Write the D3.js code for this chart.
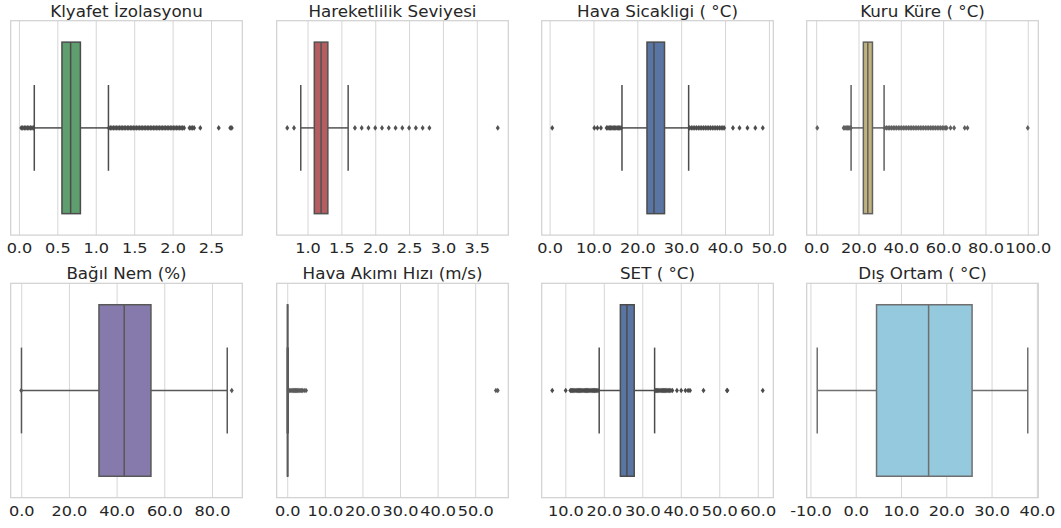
<!DOCTYPE html>
<html>
<head>
<meta charset="utf-8">
<script src="https://cdn.jsdelivr.net/npm/d3@7"></script>
<style>
  body { margin: 0; background: #fff; }
  svg { display: block; }
  text { font-family: "DejaVu Sans", sans-serif; fill: #262626; }
</style>
</head>
<body>
<svg id="chart" width="1061" height="528"></svg>
<script>
// Variables, one box per panel (row-major order)
const titles = [
  "Klyafet İzolasyonu", "Hareketlilik Seviyesi", "Hava Sicakligi ( \u00B0C)", "Kuru Küre ( \u00B0C)",
  "Bağıl Nem (%)", "Hava Akımı Hızı (m/s)", "SET ( \u00B0C)", "Dış Ortam ( \u00B0C)"
];

const boxColors = ["#55a868", "#c44e52", "#4c72b0", "#ccb974", "#8172b3", "#dd8452", "#4c72b0", "#87ceeb"];

// Five-number summaries
const q1      = [0.56,  1.1, 22.2, 22.3, 32.6, 0.05, 24.3,  4.6];
const medians = [0.673, 1.2, 23.8, 24.4, 43.2, 0.10, 26.0, 16.1];
const q3      = [0.80,  1.3, 26.2, 26.6, 54.4, 0.15, 27.9, 25.7];
const whiskLo = [0.20,  0.9, 16.5, 16.5,  0.1, 0.00, 18.8, -8.5];
const whiskHi = [1.165, 1.6, 31.7, 32.1, 86.4, 0.27, 33.2, 38.0];

// Outlying observations
const outliers = [
  [0.03,0.05,0.07,0.09,0.11,0.13,0.15,0.17,0.19,
   1.17,1.19,1.21,1.23,1.25,1.27,1.29,1.31,1.33,1.35,1.37,1.39,1.41,1.43,1.45,1.47,1.49,1.51,1.53,1.55,
   1.57,1.59,1.61,1.63,1.65,1.67,1.69,1.71,1.73,1.75,1.77,1.79,1.81,1.83,1.85,1.87,1.89,1.91,1.93,1.95,
   1.97,1.99,2.01,2.03,2.05,2.07,2.09,2.11,2.13,2.15,2.22,2.24,2.26,2.28,2.36,2.60,2.75,2.77],
  [0.7,0.8,1.7,1.8,1.9,2.0,2.1,2.2,2.3,2.4,2.5,2.6,2.7,2.8,3.81],
  [0.6,10.2,10.9,11.7,13.0,13.3,13.6,13.9,14.2,14.5,14.8,15.1,15.4,15.7,16.0,16.3,
   31.9,32.3,32.7,33.1,33.5,33.9,34.3,34.7,35.1,35.5,35.9,36.3,36.7,37.1,37.5,37.9,38.3,38.7,39.1,39.5,39.8,
   41.8,43.3,45.1,46.9,48.6],
  [0.5,13.0,13.6,14.2,14.8,15.4,16.0,16.4,
   32.4,33.2,34.0,34.8,35.6,36.4,37.2,38.0,38.8,39.6,40.4,41.2,42.0,42.8,43.6,44.4,45.2,46.0,46.8,47.6,
   48.4,49.2,50.0,50.8,51.6,52.4,53.2,54.0,54.8,55.6,56.4,57.2,58.0,58.8,59.6,60.4,61.2,61.7,
   63.5,65.2,70.2,71.5,100.0],
  [0.0, 88.3],
  [0.4,0.7,1.0,1.3,1.6,1.9,2.2,2.5,2.8,3.1,3.4,3.7,4.0,4.5,5.0,55.5,56.0],
  [6.6,10.1,11.3,11.6,11.9,12.2,12.5,12.8,13.1,13.4,13.7,14.0,14.3,14.6,14.9,15.2,15.5,15.8,16.1,16.4,
   16.7,17.0,17.3,17.6,17.9,18.2,18.5,
   33.4,33.7,34.0,34.3,34.6,34.9,35.2,35.5,35.8,36.1,36.4,36.7,37.0,37.4,37.8,
   39.0,40.1,41.2,41.9,42.4,45.9,52.0,52.1,61.3],
  []
];

const tickValues = [
  [0, 0.5, 1.0, 1.5, 2.0, 2.5],
  [1.0, 1.5, 2.0, 2.5, 3.0, 3.5],
  [0, 10, 20, 30, 40, 50],
  [0, 20, 40, 60, 80, 100],
  [0, 20, 40, 60, 80],
  [0, 10, 20, 30, 40, 50],
  [10, 20, 30, 40, 50, 60],
  [-10, 0, 10, 20, 30, 40]
];

// Layout
const colX = [10.7, 276.7, 541.7, 806.7];
const rowY = [20.7, 283.3];
const pw = 231.6, ph = 214.4;

const svg = d3.select("#chart");
const fmt = d3.format(".1f");

titles.forEach((title, i) => {
  const col = i % 4, row = Math.floor(i / 4);
  const g = svg.append("g").attr("transform", `translate(${colX[col]},${rowY[row]})`);

  const vals = [whiskLo[i], whiskHi[i], ...outliers[i]];
  const [mn, mx] = d3.extent(vals);
  const pad = (mx - mn) * 0.05;
  const x = d3.scaleLinear().domain([mn - pad, mx + pad]).range([0, pw]);
  const y = d3.scaleLinear().domain([-0.5, 0.5]).range([ph, 0]);

  // face colour desaturated, line gray derived from its lightness
  const hsl = d3.hsl(boxColors[i]);
  hsl.s *= 0.75;
  const fill = hsl.formatHex();
  const lv = Math.round(hsl.l * 0.6 * 255);
  const gray = d3.rgb(lv, lv, lv).formatHex();

  // axis with vertical gridlines
  const axis = d3.axisBottom(x)
    .tickValues(tickValues[i])
    .tickSize(-ph)
    .tickPadding(8)
    .tickFormat(d => fmt(d).replace("\u2212", "-"));
  const ag = g.append("g").attr("transform", `translate(0,${ph})`).call(axis);
  ag.select(".domain").remove();
  ag.selectAll(".tick line").attr("stroke", "#d6d6d6").attr("stroke-width", 1);
  ag.selectAll(".tick text")
    .attr("font-size", 14)
    .attr("fill", "#262626")
    .attr("transform", "scale(1.15,1)");
  ag.attr("font-family", null);

  // frame
  g.append("rect")
    .attr("x", 0).attr("y", 0).attr("width", pw).attr("height", ph)
    .attr("fill", "none").attr("stroke", "#d0d0d0").attr("stroke-width", 1.2);

  // whiskers
  g.append("line")
    .attr("x1", x(whiskLo[i])).attr("x2", x(q1[i]))
    .attr("y1", y(0)).attr("y2", y(0))
    .attr("stroke", gray).attr("stroke-width", 1.5);
  g.append("line")
    .attr("x1", x(q3[i])).attr("x2", x(whiskHi[i]))
    .attr("y1", y(0)).attr("y2", y(0))
    .attr("stroke", gray).attr("stroke-width", 1.5);
  [whiskLo[i], whiskHi[i]].forEach(v => {
    g.append("line")
      .attr("x1", x(v)).attr("x2", x(v))
      .attr("y1", y(0.2)).attr("y2", y(-0.2))
      .attr("stroke", gray).attr("stroke-width", 1.5);
  });

  // box
  g.append("rect")
    .attr("x", x(q1[i])).attr("width", Math.max(0, x(q3[i]) - x(q1[i])))
    .attr("y", y(0.4)).attr("height", y(-0.4) - y(0.4))
    .attr("fill", fill).attr("stroke", gray).attr("stroke-width", 1.5);

  // median
  g.append("line")
    .attr("x1", x(medians[i])).attr("x2", x(medians[i]))
    .attr("y1", y(0.4)).attr("y2", y(-0.4))
    .attr("stroke", gray).attr("stroke-width", 1.5);

  // outliers as thin diamonds
  const dw = 2.0, dh = 2.8;
  g.append("g").selectAll("path").data(outliers[i]).join("path")
    .attr("d", `M0,${-dh}L${dw},0L0,${dh}L${-dw},0Z`)
    .attr("transform", d => `translate(${x(d)},${y(0)})`)
    .attr("fill", gray);

  // title
  g.append("text")
    .attr("transform", `translate(${pw / 2},-4) scale(1.1,1)`)
    .attr("text-anchor", "middle")
    .attr("font-size", 15.2)
    .text(title);
});
</script>
</body>
</html>
